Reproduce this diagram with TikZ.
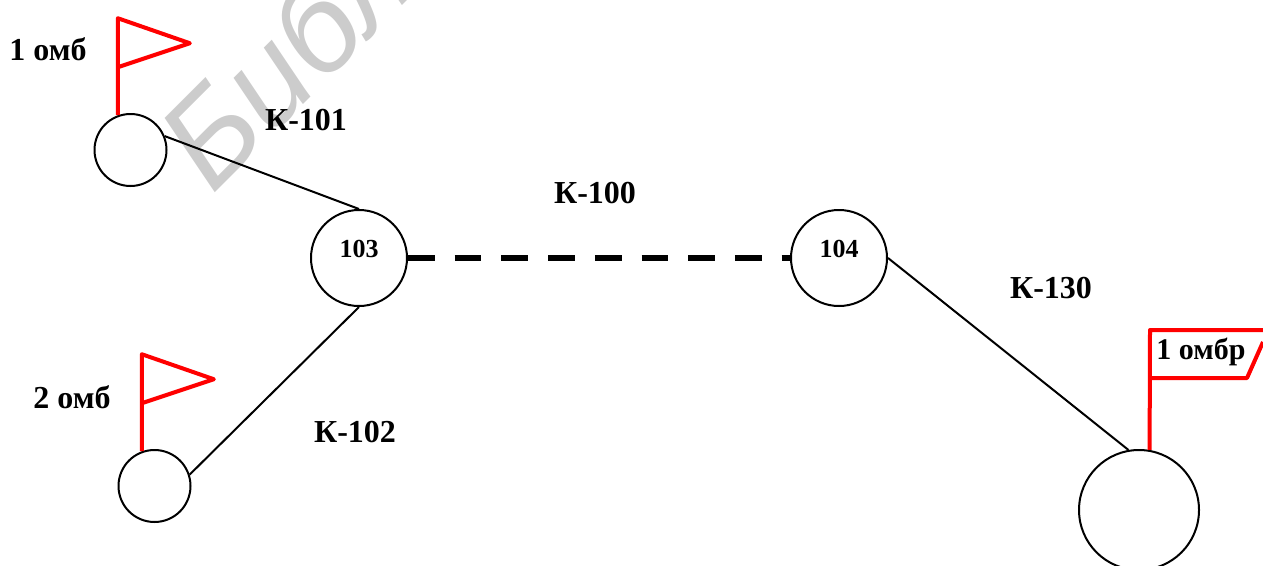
\documentclass[tikz,border=0pt]{standalone}
\usepackage{fontspec}
\setmainfont{Liberation Serif}
\newfontfamily\markfont{Liberation Sans}
\usetikzlibrary{positioning}
\begin{document}
\begin{tikzpicture}[x=1pt,y=-1pt]
 \tikzset{small node/.style={circle, draw, line width=2pt, inner sep=0pt, minimum size=72pt}, }
 \tikzset{mid node/.style={circle, draw, line width=2pt, inner sep=0pt, minimum size=96pt}, }
 \tikzset{big node/.style={circle, draw, line width=2pt, inner sep=0pt, minimum size=120pt}, }
 \tikzset{name node/.style={font=\fontsize{32}{38}\selectfont\bfseries, inner sep=0pt}, }
 \tikzset{num node/.style={font=\fontsize{26}{30}\selectfont\bfseries, inner sep=0pt}, }
 \tikzset{mark node/.style={font=\fontsize{128}{150}\selectfont\markfont\itshape, text=black!20, rotate=45, inner sep=0pt}, }
 \tikzset{linea/.style={line width=2pt},}
 \tikzset{flag/.style={line width=4pt, red, line join=round},}
 \tikzset{trunk/.style={line width=6pt, dash pattern=on 26.7pt off 20pt},}
 \useasboundingbox (0,0) rectangle (1263,565);
 \node[mark node] (wm) at (284,58) {Библ};
 \node[small node] (omb1) at (130.5,150) {};
 \node[small node] (omb2) at (154.5,486) {};
 \node[mid node] (c103) at (359,258) {};
 \node[mid node] (c104) at (839,258) {};
 \node[big node] (ombr) at (1139,510) {};
 \node[num node] (t103) at (359,249) {103};
 \node[num node] (t104) at (839,249) {104};
 \node[name node] (lomb1) at (48,49) {1 омб};
 \node[name node] (lomb2) at (72,397) {2 омб};
 \node[name node] (k101) at (306,120) {К-101};
 \node[name node] (k100) at (595,193) {К-100};
 \node[name node] (k102) at (355,432) {К-102};
 \node[name node] (k130) at (1051,288) {К-130};
 \node[name node, font=\fontsize{30}{36}\selectfont\bfseries] (lombr) at (1201,352) {1 омбр};
 \foreach \x /\y in{omb1.22/c103.north,omb2.18/c103.south,c104.east/ombr.100}
 \path[linea] (\x) edge node {} (\y);
 \draw[trunk] (c103) -- (c104);
 \draw[flag] (omb1.110) -- ++(0,-97) -- ++(72,25) -- ++(-72,24);
 \draw[flag] (omb2.110) -- ++(0,-97) -- ++(72,25) -- ++(-72,24);
 \draw[flag] (ombr.80) -- (1150,330) -- (1263,330);
 \draw[flag] (1263,342) -- (1247,378) -- (1150,378);
 \end{tikzpicture}
\end{document}
